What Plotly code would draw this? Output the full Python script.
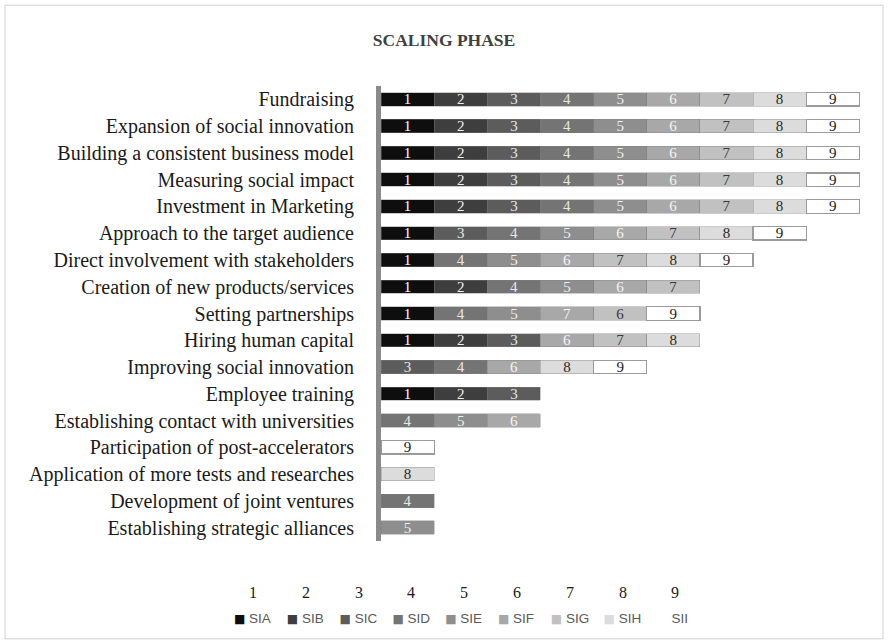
import plotly.graph_objects as go

categories = [
    "Fundraising", "Expansion of social innovation", "Building a consistent business model",
    "Measuring social impact", "Investment in Marketing", "Approach to the target audience",
    "Direct involvement with stakeholders", "Creation of new products/services",
    "Setting partnerships", "Hiring human capital", "Improving social innovation",
    "Employee training", "Establishing contact with universities",
    "Participation of post-accelerators", "Application of more tests and researches",
    "Development of joint ventures", "Establishing strategic alliances",
]

series_names = ["SIA", "SIB", "SIC", "SID", "SIE", "SIF", "SIG", "SIH", "SII"]
series_numbers = ["1", "2", "3", "4", "5", "6", "7", "8", "9"]

SIA = [1, 1, 1, 1, 1, 1, 1, 1, 1, 1, 0, 1, 0, 0, 0, 0, 0]
SIB = [1, 1, 1, 1, 1, 0, 0, 1, 0, 1, 0, 1, 0, 0, 0, 0, 0]
SIC = [1, 1, 1, 1, 1, 1, 0, 0, 0, 1, 1, 1, 0, 0, 0, 0, 0]
SID = [1, 1, 1, 1, 1, 1, 1, 1, 1, 0, 1, 0, 1, 0, 0, 1, 0]
SIE = [1, 1, 1, 1, 1, 1, 1, 1, 1, 0, 0, 0, 1, 0, 0, 0, 1]
SIF = [1, 1, 1, 1, 1, 1, 1, 1, 1, 1, 1, 0, 1, 0, 0, 0, 0]
SIG = [1, 1, 1, 1, 1, 1, 1, 1, 1, 1, 0, 0, 0, 0, 0, 0, 0]
SIH = [1, 1, 1, 1, 1, 1, 1, 0, 0, 1, 1, 0, 0, 0, 1, 0, 0]
SII = [1, 1, 1, 1, 1, 1, 1, 0, 1, 0, 1, 0, 0, 1, 0, 0, 0]
series_values = [SIA, SIB, SIC, SID, SIE, SIF, SIG, SIH, SII]

# data labels as printed in the chart (two are swapped in "Setting partnerships")
label_overrides = {("Setting partnerships", "SIF"): "7", ("Setting partnerships", "SIG"): "6"}

colors = ["#0e0e0e", "#3e3e3e", "#5c5c5c", "#747474", "#8e8e8e",
          "#a8a8a8", "#c1c1c1", "#dcdcdc", "#ffffff"]
text_colors = ["#ffffff", "#eeeeee", "#e6e6e6", "#e8e8e8", "#eeeeee",
               "#f5f5f5", "#3a3a3a", "#2a2a2a", "#1a1a1a"]

fig = go.Figure()
for i, name in enumerate(series_names):
    vals = series_values[i]
    xs = [v if v else None for v in vals]
    texts = [label_overrides.get((c, name), series_numbers[i]) if v else None
             for c, v in zip(categories, vals)]
    fig.add_trace(go.Bar(
        y=categories, x=xs, name=name, orientation="h",
        legendgroup=name, showlegend=False,
        marker=dict(color=colors[i],
                    line=dict(color="#9a9a9a" if i == 8 else "#7f7f7f",
                              width=1.2 if i == 8 else 0.4)),
        text=texts, textposition="inside", insidetextanchor="middle", textangle=0,
        constraintext="none",
        textfont=dict(family="Liberation Serif", size=15, color=text_colors[i]),
        hoverinfo="x+y+name",
    ))
    # legend entry: small coloured square glyph followed by the series name
    fig.add_trace(go.Scatter(
        x=[None], y=[None], mode="markers", legendgroup=name,
        name=(f"<span style='color:{colors[i]};font-family:DejaVu Sans;font-size:12px'>■</span>"
              f" {name}"),
        marker=dict(symbol="square", size=0.1, color="rgba(0,0,0,0)"),
        hoverinfo="skip",
    ))

# empty spacer entry so the last legend label is not clipped
fig.add_trace(go.Scatter(x=[None], y=[None], mode="markers", name=" ",
                         marker=dict(size=0.1, color="rgba(0,0,0,0)"), hoverinfo="skip"))

# chart geometry (pixels)
W, H = 888, 644
L, R = 381, 862
T, B = 86, 542
pw, ph = R - L, B - T

def px_x(x):
    return (x - L) / pw

def px_y(y):
    return (B - y) / ph

fig.update_layout(
    width=W, height=H,
    margin=dict(l=L, r=W - R, t=T, b=H - B, pad=0),
    barmode="stack", bargap=0.5,
    paper_bgcolor="white", plot_bgcolor="white",
    title=dict(text="<b>SCALING PHASE</b>", x=444 / W, xref="container", xanchor="center",
               y=1 - 40 / H, yref="container", yanchor="middle",
               font=dict(family="Liberation Serif", size=17.5, color="#404040")),
    xaxis=dict(range=[0, 9.05], showgrid=False, zeroline=False, showticklabels=False,
               showline=False, fixedrange=True),
    yaxis=dict(categoryorder="array", categoryarray=categories, autorange="reversed",
               showgrid=False, zeroline=False, showline=True, linecolor="#8a8a8a",
               linewidth=5, ticks="", ticklabelstandoff=18,
               tickfont=dict(family="Liberation Serif", size=20, color="#1a1a1a")),
    showlegend=True,
    legend=dict(orientation="h", x=px_x(194), xanchor="left", y=px_y(618), yanchor="middle",
                entrywidthmode="pixels", entrywidth=7.8, itemwidth=30,
                font=dict(family="Liberation Sans", size=13.5, color="#595959"),
                traceorder="normal", tracegroupgap=0, bgcolor="rgba(0,0,0,0)"),
    shapes=[dict(type="rect", xref="paper", yref="paper",
                 x0=px_x(5), x1=px_x(883), y0=px_y(640), y1=px_y(5),
                 line=dict(color="#d0d0d0", width=1), fillcolor="rgba(0,0,0,0)",
                 layer="below")],
)

# series numbers shown above the legend entries
for i, num in enumerate(series_numbers):
    fig.add_annotation(text=num, xref="paper", yref="paper",
                       x=px_x(253 + i * 52.8), y=px_y(594), xanchor="center",
                       yanchor="middle", showarrow=False,
                       font=dict(family="Liberation Serif", size=16, color="#1a1a1a"))

fig.write_html("out.html", config={"displayModeBar": False},
               post_script="document.body.style.margin='0px';")
